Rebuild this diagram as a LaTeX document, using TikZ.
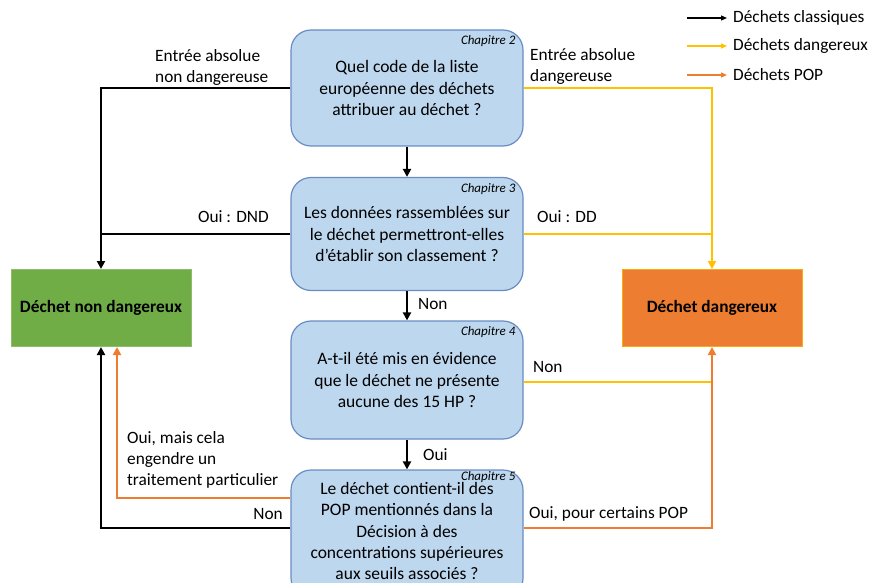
\documentclass[tikz,border=0pt]{standalone}
\usepackage{fontspec}
\setmainfont{Carlito}
\usetikzlibrary{arrows.meta}
\definecolor{qfill}{HTML}{BDD7EE}
\definecolor{qline}{HTML}{6A8CC4}
\definecolor{dgreen}{HTML}{70AD47}
\definecolor{dorange}{HTML}{ED7D31}
\definecolor{dyellow}{HTML}{FFC000}
\tikzset{
  question/.style={draw=qline, line width=1.2pt, fill=qfill, rounded corners=20pt,
    minimum width=232pt, align=center, inner sep=0pt,
    font=\fontsize{17.5}{21.5}\selectfont},
  chap/.style={anchor=north east, inner sep=0pt, font=\fontsize{13}{14}\selectfont\itshape},
  outcome/.style={minimum width=180pt, minimum height=77pt, inner sep=0pt,
    font=\fontsize{17.3}{21}\selectfont\bfseries},
  lbl/.style={inner sep=0pt, align=left, font=\fontsize{17.3}{21}\selectfont},
  flow/.style={line width=2.3pt, -{Triangle[length=8pt,width=8pt]}},
  classic/.style={flow, draw=black},
  danger/.style={flow, draw=dyellow},
  pop/.style={flow, draw=dorange},
}
\begin{document}
\begin{tikzpicture}[x=1pt, y=-1pt]
\useasboundingbox (0,0) rectangle (873,583);
\clip (0,0) rectangle (873,583);

% question boxes
\node[question, minimum height=116pt] (q1) at (407,88)
  {Quel code de la liste\\européenne des déchets\\attribuer au déchet ?};
\node[question, minimum height=113pt] (q2) at (407,234)
  {Les données rassemblées sur\\le déchet permettront-elles\\d'établir son classement ?};
\node[question, minimum height=118pt] (q3) at (407,380)
  {A-t-il été mis en évidence\\que le déchet ne présente\\aucune des 15 HP ?};
\node[question, minimum height=128pt] (q4) at (407,534) {};
\node[inner sep=0pt, align=center, font=\fontsize{17.5}{21.3}\selectfont] (q4t) at (407,531)
  {Le déchet contient-il des\\POP mentionnés dans la\\Décision à des\\concentrations supérieures\\aux seuils associés ?};

\node[chap] (c2) at ([xshift=-8pt,yshift=-6pt]q1.north east) {Chapitre 2};
\node[chap] (c3) at ([xshift=-8pt,yshift=-6pt]q2.north east) {Chapitre 3};
\node[chap] (c4) at ([xshift=-8pt,yshift=-6pt]q3.north east) {Chapitre 4};
\node[chap] (c5) at ([xshift=-8pt,yshift=-2pt]q4.north east) {Chapitre 5};

% outcomes
\node[outcome, fill=dgreen, draw=dgreen!80!white, line width=1pt] (dnd) at (101,308) {Déchet non dangereux};
\node[outcome, fill=dorange, draw=dyellow!70!dorange, line width=1pt] (dd) at (712,308) {Déchet dangereux};

% main sequence
\draw[classic] (q1) -- (q2);
\draw[classic] (q2) -- (q3);
\draw[classic] (q3) -- (q4);

% towards the non-hazardous outcome
\draw[classic] (q1.west) -| (dnd.north);
\coordinate (jl) at (dnd.north |- q2.west);
\draw[line width=2.3pt] (q2.west) -- (jl);
\draw[classic] ([yshift=6pt]q4.west) -| (dnd.south);
\draw[pop] ([yshift=36pt]q4.west) -| ([xshift=16pt]dnd.south);

% towards the hazardous outcome
\draw[danger] (q1.east) -| (dd.north);
\coordinate (jr) at (dd.north |- q2.east);
\draw[line width=2.3pt, draw=dyellow] (q2.east) -- (jr);
\coordinate (jr3) at (dd.south |- 0,382);
\draw[line width=2.3pt, draw=dyellow] (q3.east |- jr3) -- (jr3);
\draw[pop] ([yshift=6pt]q4.east) -| (dd.south);

% branch labels
\node[lbl, anchor=west] (l1) at (155,67) {Entrée absolue\\non dangereuse};
\node[lbl, anchor=west] (l2) at (530,66) {Entrée absolue\\dangereuse};
\node[lbl, anchor=east] (l3) at (269,217) {Oui : DND};
\node[lbl, anchor=west] (l4) at (537,217) {Oui : DD};
\node[lbl, anchor=west] (l5) at (418,304) {Non};
\node[lbl, anchor=west] (l6) at (533,367) {Non};
\node[lbl, anchor=west] (l7) at (423,455) {Oui};
\node[lbl, anchor=west] (l8) at (127,460) {Oui, mais cela\\engendre un\\traitement particulier};
\node[lbl, anchor=east] (l9) at (283,514) {Non};
\node[lbl, anchor=west] (l10) at (529,514) {Oui, pour certains POP};

% legend
\coordinate (k1a) at (687,18); \coordinate (k1b) at (727,18);
\coordinate (k2a) at (687,46); \coordinate (k2b) at (727,46);
\coordinate (k3a) at (687,75); \coordinate (k3b) at (727,75);
\tikzset{key/.style={line width=1.3pt, -{Triangle[length=6pt,width=5pt]}}}
\draw[key, draw=black] (k1a) -- (k1b);
\draw[key, draw=dyellow] (k2a) -- (k2b);
\draw[key, draw=dorange] (k3a) -- (k3b);
\node[lbl, anchor=west] (t1) at (733,18) {Déchets classiques};
\node[lbl, anchor=west] (t2) at (733,46) {Déchets dangereux};
\node[lbl, anchor=west] (t3) at (733,75) {Déchets POP};
\end{tikzpicture}
\end{document}
